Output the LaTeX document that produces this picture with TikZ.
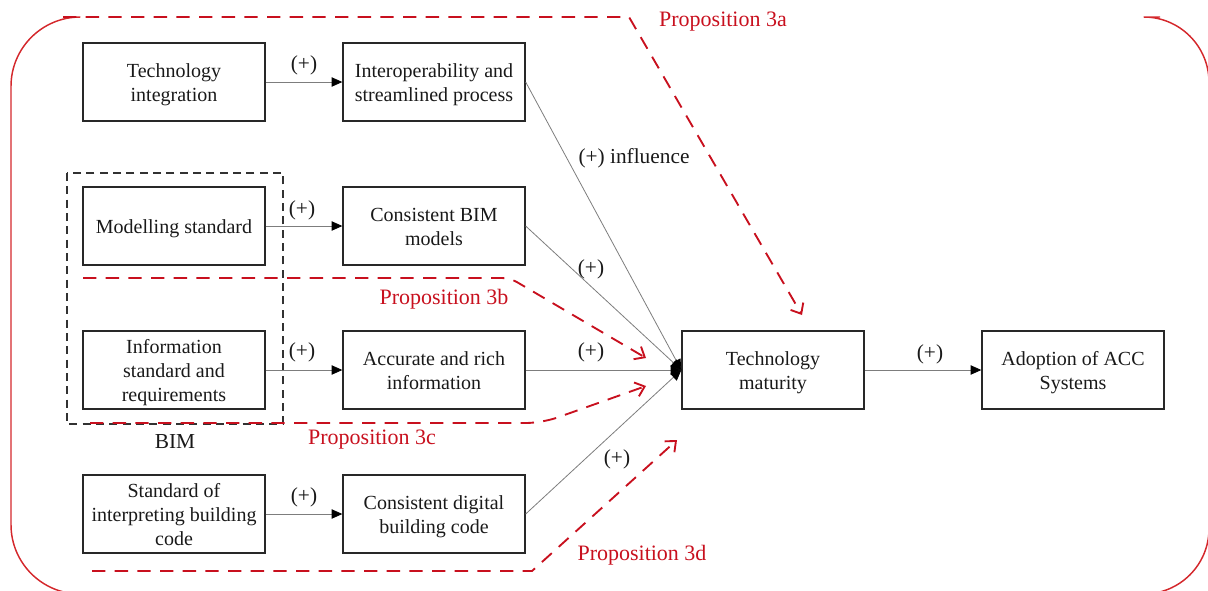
\documentclass[tikz,border=0pt]{standalone}
\usepackage{fontspec}
\setmainfont{Liberation Serif}
\usetikzlibrary{arrows.meta}
\definecolor{propred}{RGB}{200,16,30}
\definecolor{framered}{RGB}{212,40,44}
\definecolor{boxline}{RGB}{40,40,40}
\definecolor{linkgray}{RGB}{125,125,125}
\definecolor{bimgray}{RGB}{50,50,50}
% struts that fix the height of the first line and the depth of the last one
\newcommand{\topstrut}{\rule{0pt}{15pt}}
\newcommand{\botstrut}{\rule[-4.5pt]{0pt}{4.5pt}}

\begin{document}
\begin{tikzpicture}[x=0.75pt,y=-0.75pt,
  concept/.style={draw=boxline, line width=1pt, minimum width=136.5pt,
    minimum height=58.5pt, align=center, inner sep=0pt,
    font=\fontsize{15}{18}\selectfont, text=black!90},
  link/.style={draw=linkgray, line width=0.6pt,
    -{Triangle[length=8pt,width=7pt,color=black]}},
  sign/.style={font=\fontsize{16}{19}\selectfont, text=black!90, inner sep=0pt},
  proplabel/.style={font=\fontsize{16.5}{19}\selectfont, text=propred, inner sep=0pt},
  propline/.style={draw=propred, line width=1.4pt, dash pattern=on 10pt off 7pt,
    -{Straight Barb[length=6.5pt,width=11pt]}},
  frame/.style={draw=framered, line width=1.1pt},
]
\useasboundingbox (0,0) rectangle (1208,590);
\clip (0,0) rectangle (1208,590);

% outer frame (left and right rounded parts)
\draw[frame, rounded corners=52] (63,17) -- (11,17) -- (11,594) -- (63,594);
\draw[frame, rounded corners=49] (1160,17) -- (1209,17) -- (1209,594) -- (1160,594);

% BIM grouping
\draw[draw=bimgray, line width=1pt, dash pattern=on 6pt off 4pt]
  (67,173) rectangle (283,424);
\node[sign] (bim) at (175,442) {BIM};

% concepts
\node[concept] (ti)  at (174,82)  {\topstrut Technology\\integration\botstrut};
\node[concept] (isp) at (434,82)  {\topstrut Interoperability and\\streamlined process\botstrut};
\node[concept] (ms)  at (174,226) {\topstrut Modelling standard\botstrut};
\node[concept] (cbm) at (434,226) {\topstrut Consistent BIM\\models\botstrut};
\node[concept] (isr) at (174,370) {\topstrut Information\\standard and\\requirements\botstrut};
\node[concept] (ari) at (434,370) {\topstrut Accurate and rich\\information\botstrut};
\node[concept] (sib) at (174,514) {\topstrut Standard of\\interpreting building\\code\botstrut};
\node[concept] (cdb) at (434,514) {\topstrut Consistent digital\\building code\botstrut};
\node[concept] (tm)  at (773,370) {\topstrut Technology\\maturity\botstrut};
\node[concept] (acc) at (1073,370) {\topstrut Adoption of ACC\\Systems\botstrut};

% links
\draw[link] (ti) -- (isp);
\draw[link] (ms) -- (cbm);
\draw[link] (isr) -- (ari);
\draw[link] (sib) -- (cdb);
\draw[link] (isp.east) -- (tm.west);
\draw[link] (cbm.east) -- (tm.west);
\draw[link] (ari.east) -- (tm.west);
\draw[link] (cdb.east) -- (tm.west);
\draw[link] (tm) -- (acc);

% link signs
\node[sign] (s1) at (304,65)  {(+)};
\node[sign] (s2) at (302,210) {(+)};
\node[sign] (s3) at (302,352) {(+)};
\node[sign] (s4) at (304,497) {(+)};
\node[sign] (s5) at (634,158) {(+) influence};
\node[sign] (s6) at (591,269) {(+)};
\node[sign] (s7) at (591,352) {(+)};
\node[sign] (s8) at (617,459) {(+)};
\node[sign] (s9) at (930,354) {(+)};

% propositions
\coordinate (p3a0) at (63,17);
\coordinate (p3a1) at (629,17);
\coordinate (p3a2) at (802,315);
\draw[propline] (p3a0) -- (p3a1) -- (p3a2);
\node[proplabel] (l3a) at (723,22) {Proposition 3a};

\coordinate (p3b0) at (83,278);
\coordinate (p3b1) at (510,278);
\coordinate (p3b2) at (646,358);
\draw[propline, rounded corners=6] (p3b0) -- (p3b1) -- (p3b2);
\node[proplabel] (l3b) at (444,299) {Proposition 3b};

\coordinate (p3c0) at (90,423);
\coordinate (p3c1) at (542,423);
\coordinate (p3c2) at (646,386);
\draw[propline, rounded corners=12] (p3c0) -- (p3c1) -- (p3c2);
\node[proplabel] (l3c) at (372,440) {Proposition 3c};

\coordinate (p3d0) at (92,571);
\coordinate (p3d1) at (532,571);
\coordinate (p3d2) at (677,440);
\draw[propline] (p3d0) -- (p3d1) -- (p3d2);
\node[proplabel] (l3d) at (642,555) {Proposition 3d};
\end{tikzpicture}
\end{document}
